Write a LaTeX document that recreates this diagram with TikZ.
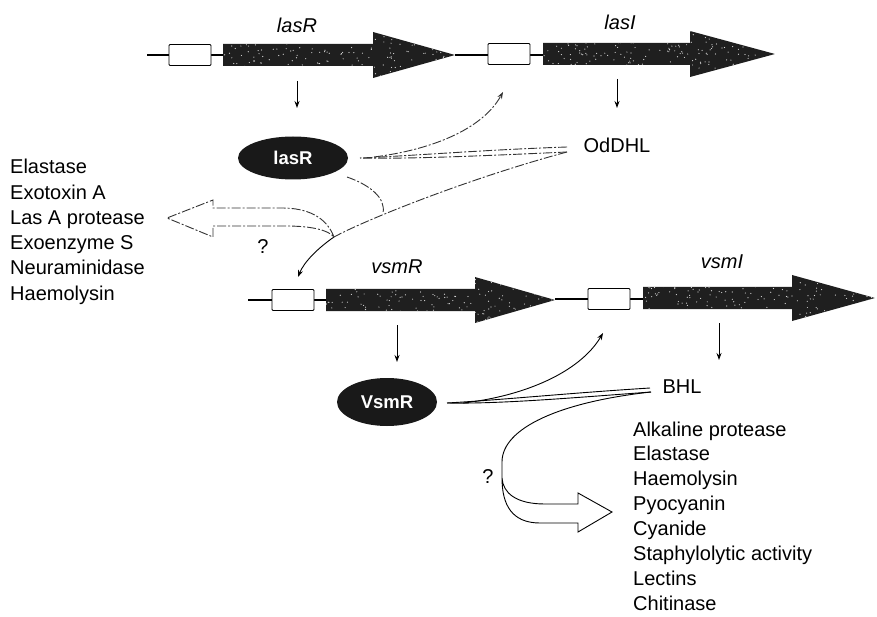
\documentclass[tikz,border=0pt]{standalone}
\usepackage{fontspec}
\setmainfont{Liberation Sans}
\usetikzlibrary{arrows.meta,shapes.geometric}
\begin{document}
\begin{tikzpicture}[x=1pt,y=-1pt,
  lbl/.style={font=\fontsize{20}{24}\selectfont, inner sep=0pt},
  genelbl/.style={font=\fontsize{20}{24}\selectfont\itshape, inner sep=0pt},
  prot/.style={ellipse, fill=black!90, text=white, font=\fontsize{18.5}{22}\selectfont\bfseries, inner sep=0pt},
  dna/.style={line width=1.2pt},
  promoter/.style={draw, fill=white, line width=0.8pt, rounded corners=1pt, minimum width=42pt, minimum height=21pt, inner sep=0pt},
  conn/.style={line width=0.9pt},
  dd/.style={conn, black!80, dash pattern=on 9pt off 2pt on 2pt off 2pt},
  tip/.style={-{Stealth[length=7pt,width=5pt]}},
  genefill/.style={fill=black!88},
]
\useasboundingbox (0,0) rectangle (877,617);

% ---------- DNA lines and promoters ----------
\draw[dna] (147,55) -- (223,55);
\draw[dna] (455,55) -- (543,55);
\node[promoter] (p1) at (190,55) {};
\node[promoter] (p2) at (509,54) {};

\draw[dna] (248,300) -- (326,300);
\draw[dna] (555,299) -- (643,299);
\node[promoter] (p3) at (293,300) {};
\node[promoter] (p4) at (609,299) {};

% ---------- gene arrows ----------
\pgfmathsetseed{7}
\foreach \xa/\xb/\xc/\yc in {223/373/455/55, 543/690/775/54, 326/475/555/300, 643/792/875/298}{
  \begin{scope}
    \path[clip] (\xa,{\yc-11}) -- (\xb,{\yc-11}) -- (\xb,{\yc-23}) -- (\xc,\yc)
      -- (\xb,{\yc+23}) -- (\xb,{\yc+11}) -- (\xa,{\yc+11}) -- cycle;
    \fill[genefill] (\xa,{\yc-24}) rectangle (\xc,{\yc+24});
    \foreach \k in {1,...,220}{
      \fill[white!85!black] ({\xa+rnd*(\xc-\xa)},{\yc-23+rnd*46}) circle[radius=0.6pt];
    }
  \end{scope}
}

% ---------- gene labels ----------
\node[genelbl] (gR) at (297,25) {lasR};
\node[genelbl] (gI) at (620,22) {lasI};
\node[genelbl] (gVR) at (397,267) {vsmR};
\node[genelbl] (gVI) at (722,262) {vsmI};

% ---------- proteins and signals ----------
\node[prot, minimum width=110pt, minimum height=43pt] (LasR) at (293,158) {lasR};
\node[lbl] (OdDHL) at (617,145) {OdDHL};
\node[prot, minimum width=100pt, minimum height=48pt] (VsmR) at (387,402) {VsmR};
\node[lbl] (BHL) at (682,387) {BHL};

% ---------- down arrows ----------
\coordinate (d1s) at (297,81);  \coordinate (d1e) at (297,108);
\coordinate (d2s) at (617,79);  \coordinate (d2e) at (617,108);
\coordinate (d3s) at (397,325); \coordinate (d3e) at (397,362);
\coordinate (d4s) at (719,323); \coordinate (d4e) at (719,360);
\foreach \n in {1,2,3,4}{ \draw[conn,tip] (d\n s) -- (d\n e); }

% ---------- upper (las) interactions ----------
\coordinate (w1) at (567,147);
\coordinate (w2) at (567,152);
\coordinate (lj) at (360,158);
\coordinate (ls) at (374,157);
\coordinate (pt2) at (503,92);
\coordinate (jn) at (334,237);
\coordinate (pt3) at (298,277);
\coordinate (lb) at (347,177);

\draw[dd] (w1) .. controls (480,150) and (410,156) .. (lj);
\draw[dd] (w2) .. controls (480,156) and (410,159) .. (lj);
\draw[dd,tip] (ls) .. controls (430,150) and (482,130) .. (pt2);
\draw[dd] (w2) .. controls (470,178) and (365,220) .. (jn);
\draw[conn,tip] (jn) .. controls (318,248) and (304,262) .. (pt3);
\draw[dd] (lb) .. controls (370,185) and (386,198) .. (383,213);
\draw[dd] (jn) .. controls (326,216) and (306,208) .. (282,208) -- (213,208)
  -- (213,200) -- (167,218) -- (213,237) -- (213,226) -- (285,226)
  .. controls (312,226) and (328,230) .. (jn);
\node[lbl] (q1) at (263,247) {?};

% ---------- lower (vsm) interactions ----------
\coordinate (b1) at (650,388);
\coordinate (b2) at (651,392);
\coordinate (vj) at (447,403);
\coordinate (vs) at (463,403);
\coordinate (pt4) at (603,333);
\coordinate (sj) at (502,478);

\draw[conn] (b1) .. controls (570,393) and (500,400) .. (vj);
\draw[conn] (b2) .. controls (570,398) and (500,404) .. (vj);
\draw[conn,tip] (vs) .. controls (525,396) and (580,372) .. (pt4);
\draw[conn] (b2) .. controls (560,402) and (502,428) .. (502,462) -- (sj);
\draw[conn] (sj) .. controls (503,493) and (516,504) .. (545,504) -- (578,504)
  -- (578,493) -- (612,512) -- (578,532) -- (578,523) -- (540,523)
  .. controls (512,523) and (502,505) .. (sj);
\node[lbl] (q2) at (488,477) {?};

% ---------- product lists ----------
\foreach \t [count=\i] in {Elastase, Exotoxin A, Las A protease, Exoenzyme S, Neuraminidase, Haemolysin}{
  \node[lbl, anchor=base west] (L\i) at (10,{174+25.2*(\i-1)}) {\t};
}
\foreach \t [count=\i] in {Alkaline protease, Elastase, Haemolysin, Pyocyanin, Cyanide, Staphylolytic activity, Lectins, Chitinase}{
  \node[lbl, anchor=base west] (R\i) at (633,{436+24.9*(\i-1)}) {\t};
}
\end{tikzpicture}
\end{document}
